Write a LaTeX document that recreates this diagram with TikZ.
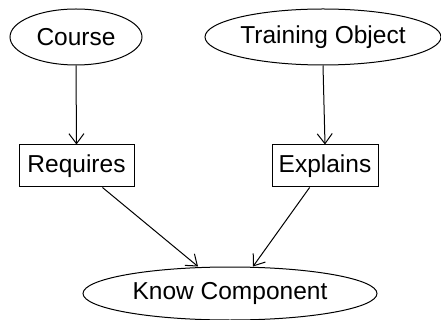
\documentclass[tikz,border=0pt]{standalone}
\usepackage{fontspec}
\setmainfont{Liberation Sans}
\usetikzlibrary{shapes.geometric,arrows.meta}
\begin{document}
\begin{tikzpicture}[x=1pt,y=-1pt,
  every node/.style={font=\fontsize{24.5}{27}\selectfont, inner sep=0pt, line width=1pt},
  oval/.style={draw, ellipse},
  box/.style={draw, rectangle},
  conn/.style={line width=1pt, -{Straight Barb[length=10pt,width=15pt,line width=1pt]}}]
\useasboundingbox (0,0) rectangle (441,320);
\node[oval, minimum width=132pt, minimum height=56pt] (course) at (76,37) {Course};
\node[oval, minimum width=236pt, minimum height=56pt] (train) at (323,37) {Training Object};
\node[box, minimum width=115pt, minimum height=42pt] (req) at (76.5,166) {Requires};
\node[box, minimum width=106pt, minimum height=42pt] (exp) at (325,166) {Explains};
\node[oval, minimum width=294pt, minimum height=53pt] (kc) at (230,293.5) {Know Component};
\coordinate (kcA) at ([xshift=-32pt]kc.north);
\coordinate (kcB) at ([xshift=23pt]kc.north);
\draw[conn] (course.south) -- (req.north);
\draw[conn] (train.south) -- (exp.north);
\draw[conn] (req) -- (kcA);
\draw[conn] (exp) -- (kcB);
\end{tikzpicture}
\end{document}
